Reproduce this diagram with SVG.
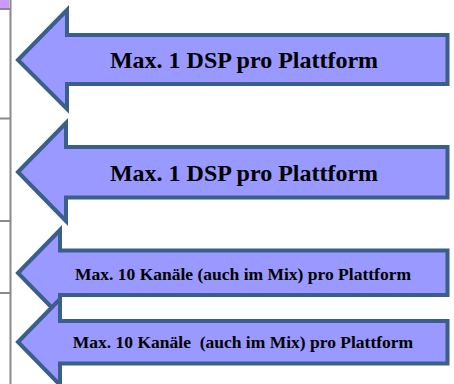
<svg xmlns="http://www.w3.org/2000/svg" width="454" height="384" viewBox="0 0 454 384">
<style>
.arrow{fill:#9999ff;stroke:#3b5f8c;stroke-width:4;stroke-linejoin:miter;stroke-miterlimit:10}
.big{font-family:"Liberation Serif","Times New Roman",serif;font-weight:bold;font-size:24px;fill:#000;text-anchor:middle}
.small{font-family:"Liberation Serif","Times New Roman",serif;font-weight:bold;font-size:17.5px;fill:#000;text-anchor:middle}
.grid{stroke:#8a8a8a;stroke-width:2;fill:none}
</style>
<rect x="0" y="0" width="9" height="8" fill="#cc99ff"/>
<g id="table-edge">
<line class="grid" x1="10.5" y1="0" x2="10.5" y2="384"/>
<line class="grid" x1="0" y1="9" x2="10" y2="9"/>
<line class="grid" x1="0" y1="118.5" x2="10" y2="118.5"/>
<line class="grid" x1="0" y1="221" x2="10" y2="221"/>
<line class="grid" x1="0" y1="293" x2="10" y2="293"/>
</g>
<g id="arrow1">
<path class="arrow" d="M18,60 L67,10 L67,35 L447.5,35 L447.5,84 L67,84 L67,109 Z"/>
<text class="big" x="244" y="68">Max. 1 DSP pro Plattform</text>
</g>
<g id="arrow2">
<path class="arrow" d="M18,172 L66,123 L66,147 L447.5,147 L447.5,197.5 L66,197.5 L66,221 Z"/>
<text class="big" x="244" y="181">Max. 1 DSP pro Plattform</text>
</g>
<g id="arrow3">
<path class="arrow" d="M18,273 L60,230 L60,250.5 L447.5,250.5 L447.5,295 L60,295 L60,316 Z"/>
<text class="small" x="243" y="280">Max. 10 Kanäle (auch im Mix) pro Plattform</text>
</g>
<g id="arrow4">
<path class="arrow" d="M18,342 L60,299 L60,321 L447.5,321 L447.5,363.5 L60,363.5 L60,385 Z"/>
<text class="small" x="243" y="348" xml:space="preserve">Max. 10 Kanäle  (auch im Mix) pro Plattform</text>
</g>
</svg>
